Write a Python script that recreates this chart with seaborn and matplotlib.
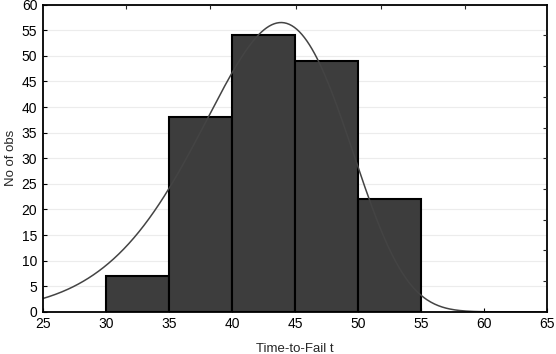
import numpy as np
import pandas as pd
import seaborn as sns
import matplotlib.pyplot as plt

# histogram of time-to-fail
bin_edges = [30, 35, 40, 45, 50, 55]
counts = [7, 38, 54, 49, 22]

# fitted Weibull distribution
weibull_shape = 8.0
weibull_scale = 44.64

x_ticks = [25, 30, 35, 40, 45, 50, 55, 60, 65]
y_ticks = [0, 5, 10, 15, 20, 25, 30, 35, 40, 45, 50, 55, 60]

centers = [(a + b) / 2 for a, b in zip(bin_edges[:-1], bin_edges[1:])]
df = pd.DataFrame({"t": centers, "n": counts})

n_obs = sum(counts)
bw = bin_edges[1] - bin_edges[0]
t = np.linspace(25, 65, 400)
r = t / weibull_scale
pdf = weibull_shape / weibull_scale * r ** (weibull_shape - 1) * np.exp(-r ** weibull_shape)
curve = pd.DataFrame({"t": t, "y": n_obs * bw * pdf})

sns.set_style("white")
plt.rcParams["font.family"] = ["Liberation Sans", "DejaVu Sans"]

fig = plt.figure(figsize=(5.56, 3.54), dpi=100)
ax = fig.add_axes([0.077, 0.119, 0.907, 0.868])

ax.yaxis.grid(True, color="#ececec", linewidth=0.8)
ax.set_axisbelow(True)

sns.histplot(data=df, x="t", weights="n", bins=bin_edges, color="#3d3d3d",
             edgecolor="black", linewidth=1.5, alpha=1, ax=ax)
sns.lineplot(data=curve, x="t", y="y", color="#444444", linewidth=1.1, ax=ax)

ax.set_xlim(25, 65)
ax.set_ylim(0, 60)
ax.set_xticks(x_ticks)
ax.set_yticks(y_ticks)
ax.tick_params(direction="in", length=3, labelsize=10, colors="black", pad=4)
ax.set_xlabel("Time-to-Fail t", fontsize=9.5, labelpad=8)
ax.set_ylabel("No of obs", fontsize=9.5, labelpad=3)
for s in ax.spines.values():
    s.set_color("black")
    s.set_linewidth(1.3)

# secondary tick marks on the top and right frame
ax_top = ax.twiny()
ax_top.set_xlim(25, 65)
ax_top.set_xticks([31.6, 38.3, 45.1, 51.8, 58.5])
ax_top.tick_params(direction="in", length=3, labeltop=False)
ax_right = ax.twinx()
ax_right.set_ylim(0, 60)
ax_right.set_yticks([6, 12, 18, 24, 30, 36, 42, 48, 54])
ax_right.tick_params(direction="in", length=3, labelright=False)
for a in (ax_top, ax_right):
    for s in a.spines.values():
        s.set_visible(False)
    a.grid(False)

fig.savefig("out.png", dpi=100)
